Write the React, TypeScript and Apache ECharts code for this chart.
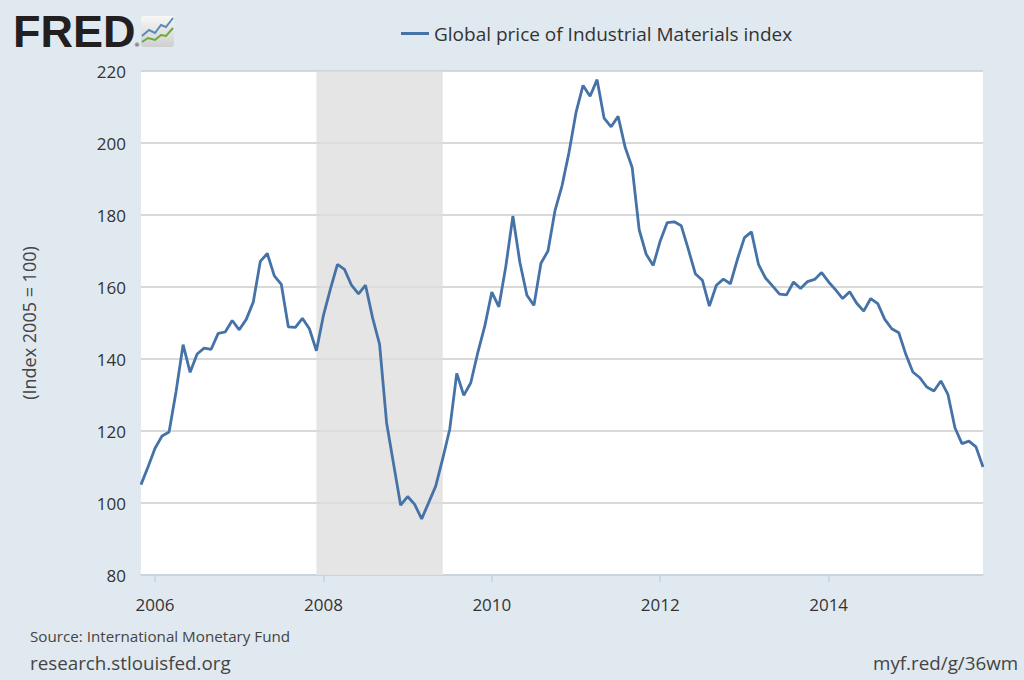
import React, { useEffect, useRef } from "react";
import * as echarts from "echarts";

// Monthly values, Nov 2005 .. Nov 2015 (Index 2005 = 100)
const v2005 = [105.1, 110.0];
const v2006 = [115.2, 118.6, 119.7, 131.0, 144.0, 136.3, 141.4, 143.0, 142.7, 147.1, 147.5, 150.7];
const v2007 = [148.1, 151.0, 155.8, 167.1, 169.3, 163.1, 160.7, 148.9, 148.8, 151.3, 148.4, 142.3];
const v2008 = [152.1, 159.5, 166.3, 164.9, 160.5, 158.1, 160.5, 151.5, 144.1, 122.3, 110.8, 99.4];
const v2009 = [101.8, 99.6, 95.6, 100.1, 104.7, 112.3, 120.5, 136.0, 129.9, 133.4, 141.8, 149.2];
const v2010 = [158.6, 154.5, 165.8, 179.7, 166.8, 157.7, 154.9, 166.6, 170.0, 181.2, 188.1, 197.4];
const v2011 = [208.5, 216.0, 213.0, 217.6, 206.9, 204.5, 207.4, 198.8, 193.2, 175.9, 169.1, 166.0];
const v2012 = [172.8, 177.9, 178.1, 177.0, 170.5, 163.7, 161.9, 154.7, 160.5, 162.2, 160.9, 167.7];
const v2013 = [173.7, 175.3, 166.3, 162.5, 160.3, 158.0, 157.8, 161.4, 159.6, 161.5, 162.1, 164.0];
const v2014 = [161.4, 159.2, 156.8, 158.7, 155.5, 153.3, 156.8, 155.4, 151.0, 148.4, 147.3, 141.3];
const v2015 = [136.4, 134.8, 132.2, 131.1, 133.9, 130.2, 120.9, 116.5, 117.2, 115.6, 110.0];

const values = [
  ...v2005, ...v2006, ...v2007, ...v2008, ...v2009, ...v2010,
  ...v2011, ...v2012, ...v2013, ...v2014, ...v2015,
];

const startYear = 2005;
const startMonth = 11;
const months: string[] = values.map((_, i) => {
  const m0 = startMonth - 1 + i;
  const y = startYear + Math.floor(m0 / 12);
  const m = (m0 % 12) + 1;
  return `${y}-${m < 10 ? "0" + m : m}`;
});

const recessionStart = "2007-12";
const recessionEnd = "2009-06";
const seriesName = "Global price of Industrial Materials index";
const yTicks = { min: 80, max: 220, interval: 20 };
const levels = [80, 100, 120, 140, 160, 180, 200, 220];

const FONT = "'Open Sans', 'DejaVu Sans', sans-serif";

const isLabelMonth = (_: number, val: string) =>
  val.endsWith("-01") && parseInt(val.slice(0, 4), 10) % 2 === 0;

// recession shading split into bands so the gridlines remain visible through it
const GAP = 0.2;
const recessionBands = levels.slice(0, -1).map((lv, i) => [
  { xAxis: recessionStart, yAxis: i === 0 ? lv : lv + GAP },
  { xAxis: recessionEnd, yAxis: levels[i + 1] - GAP },
]);

export default function App() {
  const ref = useRef<HTMLDivElement>(null);
  useEffect(() => {
    if (!ref.current) return;
    const chart = echarts.init(ref.current, null, { renderer: "svg" });
    chart.setOption({
      animation: false,
      backgroundColor: "#e1e9f0",
      textStyle: { fontFamily: FONT },
      legend: {
        data: [seriesName],
        left: 396,
        top: 19,
        icon: "rect",
        itemWidth: 28,
        itemHeight: 3,
        itemGap: 6,
        textStyle: { fontSize: 19, color: "#333", fontFamily: FONT },
      },
      grid: { left: 141, right: 41, top: 71, bottom: 105, backgroundColor: "#ffffff", show: true, borderWidth: 0 },
      xAxis: {
        type: "category",
        data: months,
        boundaryGap: false,
        axisLine: { show: true, lineStyle: { color: "#c5d3e0", width: 1.5 } },
        axisTick: { show: true, interval: isLabelMonth, length: 7, lineStyle: { color: "#c5d3e0", width: 1.5 } },
        axisLabel: {
          interval: isLabelMonth,
          formatter: (v: string) => v.slice(0, 4),
          fontSize: 17,
          color: "#333",
          margin: 21,
          fontFamily: FONT,
        },
        splitLine: { show: false },
      },
      yAxis: {
        type: "value",
        min: yTicks.min,
        max: yTicks.max,
        interval: yTicks.interval,
        name: "(Index 2005 = 100)",
        nameLocation: "middle",
        nameGap: 103,
        nameTextStyle: { fontSize: 18, color: "#444", fontFamily: FONT },
        axisLine: { show: false },
        axisTick: { show: false },
        axisLabel: { fontSize: 17, color: "#333", margin: 15, fontFamily: FONT },
        splitLine: { show: true, lineStyle: { color: "#cccccc", width: 1.5 } },
      },
      series: [
        {
          name: "recession",
          type: "line",
          data: [],
          silent: true,
          z: 1,
          markArea: {
            silent: true,
            itemStyle: { color: "#e5e5e5" },
            data: recessionBands,
          },
        },
        {
          name: seriesName,
          type: "line",
          data: values,
          z: 10,
          symbol: "none",
          lineStyle: { color: "#4572a7", width: 2.8 },
          itemStyle: { color: "#4572a7" },
        },
      ],
      graphic: [
        {
          type: "text",
          left: 13,
          top: 9,
          style: {
            text: "FRED",
            font: "bold 45px 'Liberation Sans', Arial, sans-serif",
            fill: "#231f20",
          },
        },
        {
          type: "text",
          left: 134,
          top: 41,
          style: { text: "®", font: "6px 'DejaVu Sans'", fill: "#231f20" },
        },
        {
          type: "rect",
          shape: { x: 141, y: 16, width: 33, height: 31, r: 3 },
          style: {
            fill: new echarts.graphic.LinearGradient(0, 0, 0, 1, [
              { offset: 0, color: "#f7f7f7" },
              { offset: 1, color: "#cfcfcf" },
            ]),
          },
        },
        {
          type: "polyline",
          shape: { points: [[142, 36], [149, 30], [155, 33], [161, 25], [166, 27], [173, 18]] },
          style: { stroke: "#5b8cb8", lineWidth: 2, fill: "none" },
        },
        {
          type: "polyline",
          shape: { points: [[142, 42], [148, 38], [155, 40], [161, 35], [166, 36], [173, 28]] },
          style: { stroke: "#6aaa3a", lineWidth: 2, fill: "none" },
        },
        {
          type: "text",
          left: 30,
          top: 628,
          style: { text: "Source: International Monetary Fund", font: `15.2px ${FONT}`, fill: "#444" },
        },
        {
          type: "text",
          left: 30,
          top: 653,
          style: { text: "research.stlouisfed.org", font: `18.8px ${FONT}`, fill: "#444" },
        },
        {
          type: "text",
          left: 873,
          top: 653,
          style: { text: "myf.red/g/36wm", font: `18.8px ${FONT}`, fill: "#444" },
        },
      ],
    });
    return () => chart.dispose();
  }, []);
  return (
    <div
      ref={ref}
      style={{ position: "absolute", left: 0, top: 0, width: 1024, height: 680 }}
    />
  );
}
